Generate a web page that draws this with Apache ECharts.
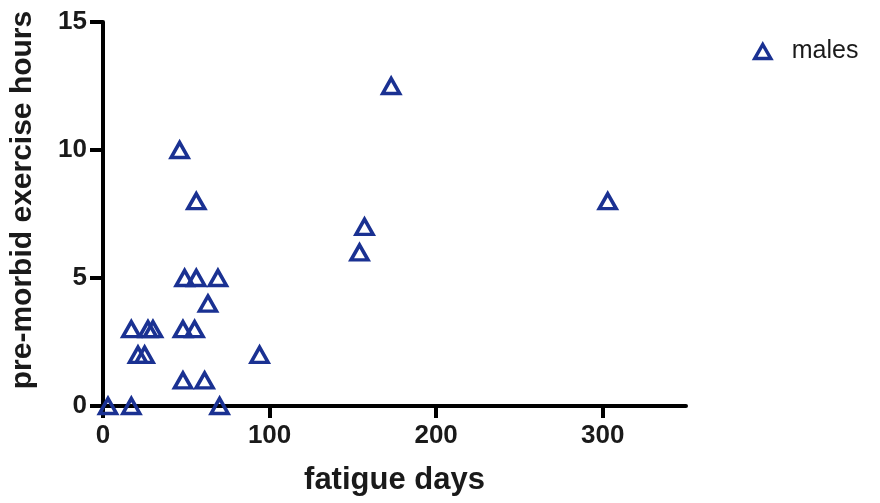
<!DOCTYPE html>
<html>
<head>
<meta charset="utf-8">
<script src="https://cdn.jsdelivr.net/npm/echarts@6/dist/echarts.min.js"></script>
<style>
  html, body { margin: 0; padding: 0; background: #fff; }
  #chart { width: 880px; height: 503px; }
</style>
</head>
<body>
<div id="chart"></div>
<script>
// fatigue days vs. pre-morbid exercise hours, males
const fatigueDays = [3, 17, 70, 48, 61, 21, 25, 94, 17, 27, 30, 48, 55, 63, 49, 56, 69, 154, 157, 56, 303, 46, 173];
const exerciseHours = [0, 0, 0, 1, 1, 2, 2, 2, 3, 3, 3, 3, 3, 4, 5, 5, 5, 6, 7, 8, 8, 10, 12.5];
const xTicks = [0, 100, 200, 300];
const yTicks = [0, 5, 10, 15];
const seriesName = 'males';

const points = fatigueDays.map((d, i) => [d, exerciseHours[i]]);
const ink = '#1a3192';
const font = '"Liberation Sans", Arial, sans-serif';

const chart = echarts.init(document.getElementById('chart'));
chart.setOption({
  animation: false,
  backgroundColor: '#fff',
  grid: { left: 102, right: 194, top: 22, bottom: 97, containLabel: false },
  legend: {
    data: [seriesName],
    left: 748, top: 34,
    itemWidth: 16, itemHeight: 14, itemGap: 10,
    textStyle: { fontFamily: font, fontSize: 25, color: '#1a1a1a', padding: [0, 0, 0, 16] },
    itemStyle: { color: 'rgba(0,0,0,0)', borderColor: ink, borderWidth: 3.5 }
  },
  xAxis: {
    type: 'value', min: 0, max: 350, interval: 100,
    name: 'fatigue days', nameLocation: 'middle', nameGap: 59,
    nameTextStyle: { fontFamily: font, fontSize: 31, fontWeight: 'bold', color: '#1a1a1a' },
    splitLine: { show: false },
    axisLine: { show: true, onZero: false, lineStyle: { color: '#000', width: 4 } },
    axisTick: { show: true, length: 12, lineStyle: { color: '#000', width: 4 }, customValues: xTicks },
    axisLabel: { customValues: xTicks, margin: 17, fontFamily: font, fontSize: 26, fontWeight: 'bold', color: '#1a1a1a' }
  },
  yAxis: {
    type: 'value', min: 0, max: 15, interval: 5,
    name: 'pre-morbid exercise hours', nameLocation: 'middle', nameGap: 65,
    nameTextStyle: { fontFamily: font, fontSize: 30, fontWeight: 'bold', color: '#1a1a1a', padding: [0, 0, 0, 28] },
    splitLine: { show: false },
    axisLine: { show: true, onZero: false, lineStyle: { color: '#000', width: 4 } },
    axisTick: { show: true, length: 13, lineStyle: { color: '#000', width: 4 }, customValues: yTicks },
    axisLabel: { customValues: yTicks, margin: 16, fontFamily: font, fontSize: 26, fontWeight: 'bold', color: '#1a1a1a' }
  },
  series: [{
    name: seriesName,
    type: 'scatter',
    data: points,
    symbol: 'triangle',
    symbolSize: [17, 15],
    clip: false,
    itemStyle: { color: 'rgba(0,0,0,0)', borderColor: ink, borderWidth: 3.5, opacity: 1 }
  }]
});
</script>
</body>
</html>
